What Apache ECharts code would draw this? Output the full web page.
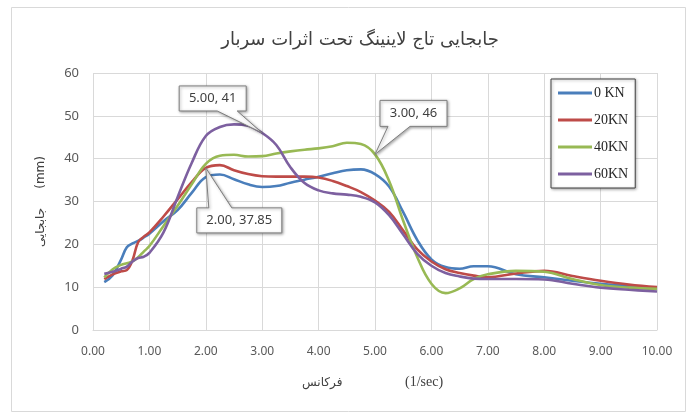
<!DOCTYPE html>
<html>
<head>
<meta charset="utf-8">
<script src="https://cdn.jsdelivr.net/npm/echarts@6/dist/echarts.min.js"></script>
<style>
html,body{margin:0;padding:0;background:#fff;}
#chart{width:691px;height:414px;}
</style>
</head>
<body>
<div id="chart"></div>
<script>
// ---- Data ----
const titleText = 'جابجایی تاج لاینینگ تحت اثرات سربار';
const xAxisTitle = 'فرکانس';
const xAxisUnit = '(1/sec)';
const yAxisTitle = 'جابجایی     (mm)';
const seriesNames = ['0 KN', '20KN', '40KN', '60KN'];
const frequency = [0.2, 0.35, 0.5, 0.6, 0.7, 0.8, 0.9, 1.0, 1.25, 1.5, 1.75, 2.0, 2.25, 2.5, 2.75, 3.0, 3.25, 3.5, 3.75, 4.0, 4.25, 4.5, 4.75, 5.0, 5.25, 5.5, 5.75, 6.0, 6.25, 6.5, 6.75, 7.0, 7.5, 8.0, 8.5, 9.0, 9.5, 10.0];
const load0KN  = [11.2, 12.8, 16.5, 19.3, 20.2, 20.8, 21.6, 22.5, 25.4, 28.0, 32.0, 35.7, 36.3, 35.2, 34.0, 33.4, 33.6, 34.4, 35.1, 35.8, 36.6, 37.3, 37.5, 36.4, 33.5, 27.5, 21.0, 16.5, 14.7, 14.3, 14.9, 14.9, 13.0, 12.3, 11.5, 10.8, 10.3, 9.8];
const load20KN = [11.9, 13.0, 13.7, 14.0, 16.3, 20.5, 21.8, 22.8, 26.5, 30.5, 34.5, 37.85, 38.5, 37.3, 36.4, 35.9, 35.8, 35.8, 35.8, 35.6, 34.8, 33.6, 32.2, 30.2, 27.6, 23.2, 18.8, 16.0, 14.2, 13.3, 12.7, 12.3, 13.2, 13.8, 12.6, 11.5, 10.6, 10.0];
const load40KN = [12.3, 14.2, 15.2, 15.6, 16.0, 17.0, 18.3, 19.6, 24.3, 29.0, 34.0, 38.8, 40.7, 40.9, 40.5, 40.6, 41.2, 41.7, 42.1, 42.4, 42.9, 43.7, 43.4, 41.0, 34.8, 25.5, 17.0, 10.8, 8.6, 9.7, 11.9, 13.0, 13.8, 13.6, 11.9, 10.5, 9.9, 9.6];
const load60KN = [13.1, 13.6, 14.3, 14.8, 16.0, 16.8, 17.1, 18.0, 22.8, 31.0, 39.0, 45.3, 47.4, 48.0, 47.7, 46.0, 43.2, 38.0, 34.3, 32.6, 31.9, 31.6, 31.1, 29.8, 26.8, 22.3, 17.8, 15.0, 13.3, 12.5, 12.0, 11.9, 11.9, 11.8, 10.8, 9.9, 9.4, 9.0];
const yTicks = [0, 10, 20, 30, 40, 50, 60];
const xTicks = [0, 1, 2, 3, 4, 5, 6, 7, 8, 9, 10];
// Callout labels (text as shown) and the data points they point to
const calloutTexts = ['5.00, 41', '3.00, 46', '2.00, 37.85'];
const calloutPoints = [[3.0, 46.0], [5.0, 41.0], [2.0, 37.85]];

// ---- Styles ----
const colors = ['#4A7EBB', '#BE4B48', '#98B954', '#7D60A0'];
const seriesValues = [load0KN, load20KN, load40KN, load60KN];
const persianFont = '"DejaVu Sans", "Noto Sans", sans-serif';
const tickFont = '"Noto Sans", "Open Sans", sans-serif';
// callout box geometry relative to the pointed data point (px)
const calloutGeom = [
  {dx: -83, dy: -47, w: 67, h: 25, side: 'bottom', b1: -45, b2: -25},
  {dx: 5, dy: -54, w: 67, h: 26, side: 'bottom', b1: 13, b2: 35},
  {dx: -9, dy: 40, w: 85, h: 25, side: 'top', b1: 3, b2: 26}
];

const chart = echarts.init(document.getElementById('chart'));

const series = seriesNames.map((name, i) => ({
  name: name,
  type: 'line',
  data: frequency.map((x, j) => [x, seriesValues[i][j]]),
  smooth: 0.4,
  showSymbol: false,
  symbol: 'none',
  lineStyle: {width: 2.6, color: colors[i]},
  itemStyle: {color: colors[i]},
  z: 2 + i
}));

chart.setOption({
  animation: false,
  backgroundColor: '#ffffff',
  title: {
    text: titleText,
    left: 355,
    textAlign: 'center',
    top: 26,
    textStyle: {fontFamily: persianFont, fontSize: 18, fontWeight: 'normal', color: '#404040'}
  },
  grid: {left: 93, right: 34, top: 73, bottom: 84},
  legend: {
    orient: 'vertical',
    left: 551,
    top: 79,
    padding: [7, 7, 7, 7],
    itemWidth: 34,
    itemHeight: 3,
    itemGap: 13,
    icon: 'rect',
    borderColor: '#404040',
    borderWidth: 1,
    backgroundColor: '#ffffff',
    shadowColor: 'rgba(0,0,0,0.35)',
    shadowBlur: 3,
    shadowOffsetX: 1,
    shadowOffsetY: 1,
    data: seriesNames,
    textStyle: {fontFamily: '"Liberation Serif", serif', fontSize: 14, color: '#262626', padding: [0, 0, 0, -3]}
  },
  xAxis: {
    type: 'value',
    min: xTicks[0],
    max: xTicks[xTicks.length - 1],
    interval: 1,
    axisLine: {show: true, lineStyle: {color: '#d9d9d9'}},
    axisTick: {show: false},
    splitLine: {show: true, lineStyle: {color: '#d9d9d9'}},
    axisLabel: {
      margin: 16,
      color: '#595959',
      fontFamily: tickFont,
      fontSize: 12,
      formatter: v => v.toFixed(2)
    }
  },
  yAxis: {
    type: 'value',
    min: yTicks[0],
    max: yTicks[yTicks.length - 1],
    interval: 10,
    name: yAxisTitle,
    nameLocation: 'middle',
    nameRotate: 90,
    nameGap: 46,
    nameTextStyle: {fontFamily: persianFont, fontSize: 12, color: '#404040'},
    axisLine: {show: false},
    axisTick: {show: false},
    splitLine: {show: true, lineStyle: {color: '#d9d9d9'}},
    axisLabel: {margin: 14, color: '#595959', fontFamily: tickFont, fontSize: 13}
  },
  series: series
});

// Build callouts anchored to data points
const graphics = [
  {type: 'rect', left: 9, top: 5, shape: {width: 674, height: 404}, style: {fill: 'none', stroke: '#d9d9d9', lineWidth: 1}, silent: true, z: -10},
  {type: 'text', left: 302, top: 377, style: {text: xAxisTitle, font: '12px ' + persianFont, fill: '#404040'}},
  {type: 'text', left: 405, top: 375, style: {text: xAxisUnit, font: '14px "Liberation Serif", serif', fill: '#404040'}}
];
calloutPoints.forEach((p, i) => {
  const tip = chart.convertToPixel({xAxisIndex: 0, yAxisIndex: 0}, p);
  const g = calloutGeom[i];
  const L = tip[0] + g.dx, T = tip[1] + g.dy, R = L + g.w, B = T + g.h;
  let pts;
  if (g.side === 'bottom') {
    pts = [[L, T], [R, T], [R, B], [tip[0] + g.b2, B], [tip[0], tip[1]], [tip[0] + g.b1, B], [L, B]];
  } else {
    pts = [[L, T], [tip[0] + g.b1, T], [tip[0], tip[1]], [tip[0] + g.b2, T], [R, T], [R, B], [L, B]];
  }
  graphics.push({
    type: 'polygon',
    shape: {points: pts},
    style: {fill: '#ffffff', stroke: '#7f7f7f', lineWidth: 1, shadowColor: 'rgba(0,0,0,0.35)', shadowBlur: 3, shadowOffsetX: 1, shadowOffsetY: 1},
    z: 100
  });
  graphics.push({
    type: 'text',
    x: (L + R) / 2,
    y: (T + B) / 2,
    style: {text: calloutTexts[i], font: '13px ' + tickFont, fill: '#404040', align: 'center', verticalAlign: 'middle'},
    z: 101
  });
});
chart.setOption({graphic: graphics});
</script>
</body>
</html>
